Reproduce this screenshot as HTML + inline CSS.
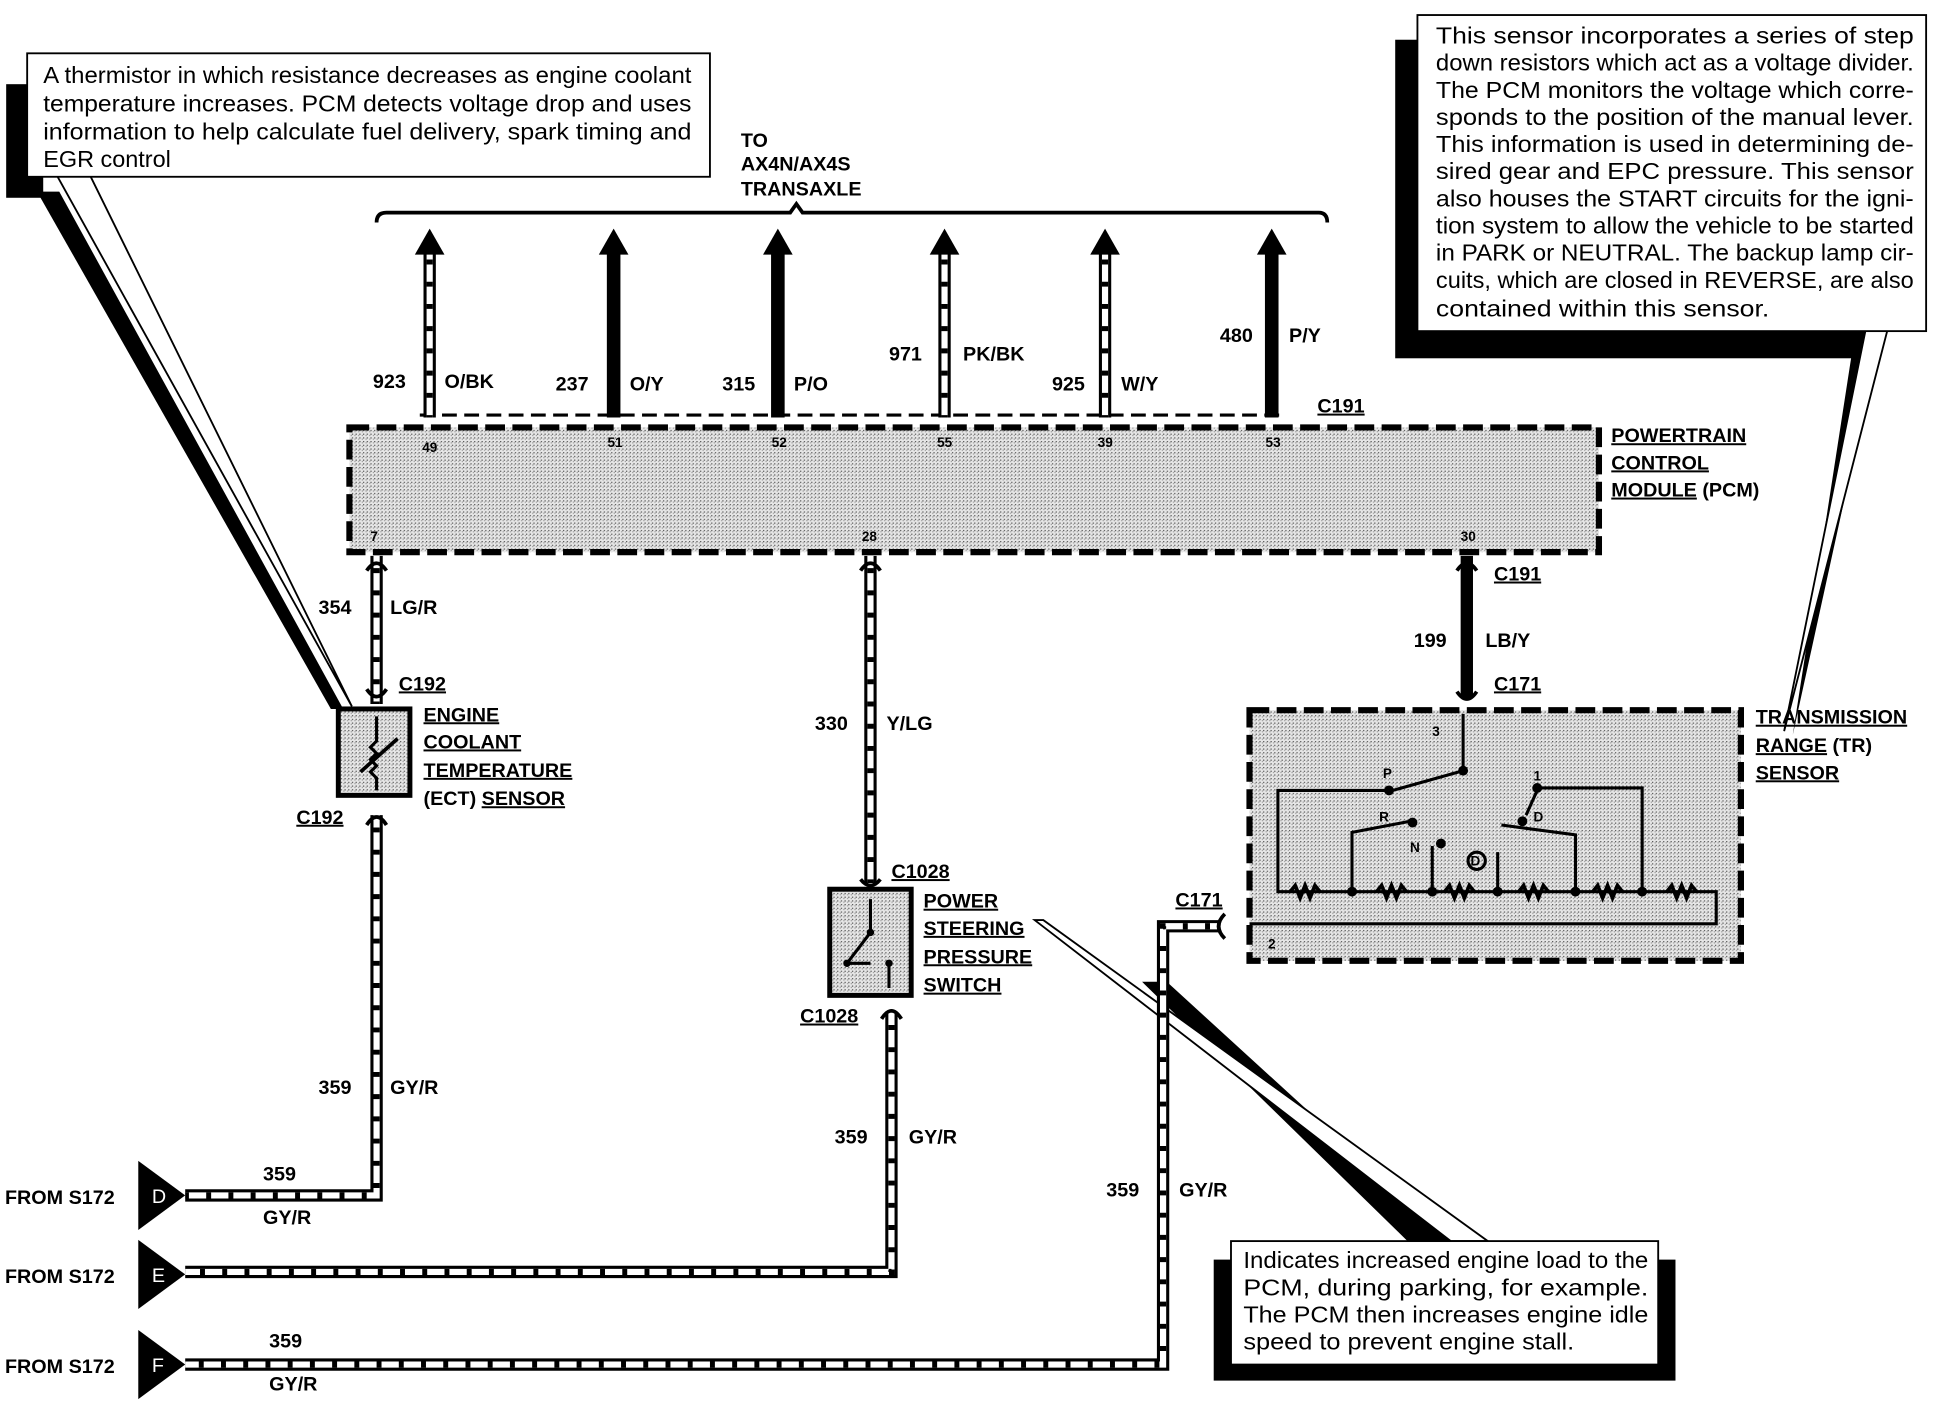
<!DOCTYPE html>
<html><head><meta charset="utf-8"><style>
html,body{margin:0;padding:0;background:#fff;}
svg{display:block;}
text{font-family:"Liberation Sans",Arial,sans-serif;fill:#000;}
.b{font-weight:bold;font-size:16px;}
.s{font-weight:bold;font-size:11px;}
.p{font-size:19px;}
.u{text-decoration:underline;}
</style></head><body>
<svg width="1936" height="1408" viewBox="0 0 1568 1140" xmlns="http://www.w3.org/2000/svg">
<defs>
<pattern id="dots" width="3" height="3" patternUnits="userSpaceOnUse">
<rect width="3" height="3" fill="#e6e6e6"/><rect width="1" height="1" fill="#555"/><rect x="2" y="1" width="1" height="1" fill="#999"/>
</pattern>
</defs>

<!-- Left callout shadow + box -->
<rect x="5" y="68" width="30" height="92" fill="#000"/>
<polygon points="30,155 48,155 278,574 268,574" fill="#000"/>
<polygon points="45,140 72,140 285,572" fill="#fff" stroke="#000" stroke-width="1.5"/>
<rect x="22" y="43" width="553" height="100" fill="#fff" stroke="#000" stroke-width="1.5"/>
<text class="p" x="35" y="67" textLength="525" lengthAdjust="spacingAndGlyphs">A thermistor in which resistance decreases as engine coolant</text>
<text class="p" x="35" y="90" textLength="525" lengthAdjust="spacingAndGlyphs">temperature increases. PCM detects voltage drop and uses</text>
<text class="p" x="35" y="113" textLength="525" lengthAdjust="spacingAndGlyphs">information to help calculate fuel delivery, spark timing and</text>
<text class="p" x="35" y="135">EGR control</text>

<!-- Right callout -->
<rect x="1130" y="32" width="385" height="258" fill="#000"/>
<polygon points="1500,285 1520,285 1452,595" fill="#000"/>
<polygon points="1512,262 1530,262 1445,592" fill="#fff" stroke="#000" stroke-width="1.5"/>
<rect x="1148" y="12" width="412" height="256" fill="#fff" stroke="#000" stroke-width="1.5"/>
<text class="p" x="1163" y="35" textLength="387" lengthAdjust="spacingAndGlyphs">This sensor incorporates a series of step</text>
<text class="p" x="1163" y="57" textLength="387" lengthAdjust="spacingAndGlyphs">down resistors which act as a voltage divider.</text>
<text class="p" x="1163" y="79" textLength="387" lengthAdjust="spacingAndGlyphs">The PCM monitors the voltage which corre-</text>
<text class="p" x="1163" y="101" textLength="387" lengthAdjust="spacingAndGlyphs">sponds to the position of the manual lever.</text>
<text class="p" x="1163" y="123" textLength="387" lengthAdjust="spacingAndGlyphs">This information is used in determining de-</text>
<text class="p" x="1163" y="145" textLength="387" lengthAdjust="spacingAndGlyphs">sired gear and EPC pressure.  This sensor</text>
<text class="p" x="1163" y="167" textLength="387" lengthAdjust="spacingAndGlyphs">also houses the START circuits for the igni-</text>
<text class="p" x="1163" y="189" textLength="387" lengthAdjust="spacingAndGlyphs">tion system to allow the vehicle to be started</text>
<text class="p" x="1163" y="211" textLength="387" lengthAdjust="spacingAndGlyphs">in PARK or NEUTRAL.  The backup lamp cir-</text>
<text class="p" x="1163" y="233" textLength="387" lengthAdjust="spacingAndGlyphs">cuits, which are closed in REVERSE, are also</text>
<text class="p" x="1163" y="256" textLength="270" lengthAdjust="spacingAndGlyphs">contained within this sensor.</text>

<!-- Bottom callout -->
<polygon points="925,795 945,795 1175,1005 1140,1005" fill="#000"/>
<polygon points="838,745 845,745 1205,1005 1175,1005" fill="#fff" stroke="#000" stroke-width="1.5"/>
<rect x="983" y="1020" width="374" height="98" fill="#000"/>
<rect x="997" y="1005" width="346" height="100" fill="#fff" stroke="#000" stroke-width="1.5"/>
<text class="p" x="1007" y="1027" textLength="328" lengthAdjust="spacingAndGlyphs">Indicates increased engine load to the</text>
<text class="p" x="1007" y="1049" textLength="328" lengthAdjust="spacingAndGlyphs">PCM, during parking, for example.</text>
<text class="p" x="1007" y="1071" textLength="328" lengthAdjust="spacingAndGlyphs">The PCM then increases engine idle</text>
<text class="p" x="1007" y="1093" textLength="268" lengthAdjust="spacingAndGlyphs">speed to prevent engine stall.</text>

<!-- Brace and transaxle label -->
<text class="b" x="600" y="119">TO</text>
<text class="b" x="600" y="138">AX4N/AX4S</text>
<text class="b" x="600" y="158">TRANSAXLE</text>
<path d="M305,180 Q305,172 313,172 L640,172 L645,165 L650,172 L1068,172 Q1075,172 1075,180" fill="none" stroke="#000" stroke-width="3"/>

<!-- C191 dashed line -->
<line x1="340" y1="336" x2="1040" y2="336" stroke="#000" stroke-width="2.5" stroke-dasharray="12,6"/>
<text class="b u" x="1067" y="334">C191</text>

<g stroke-linecap="butt">
<line x1="348" y1="200" x2="348" y2="338" stroke="#000" stroke-width="10"/>
<line x1="348" y1="200" x2="348" y2="338" stroke="#fff" stroke-width="5"/>
<line x1="348" y1="210" x2="348" y2="338" stroke="#000" stroke-width="5" stroke-dasharray="4,14"/>
<line x1="497" y1="200" x2="497" y2="338" stroke="#000" stroke-width="11"/>
<line x1="630" y1="200" x2="630" y2="338" stroke="#000" stroke-width="11"/>
<line x1="765" y1="200" x2="765" y2="338" stroke="#000" stroke-width="10"/>
<line x1="765" y1="200" x2="765" y2="338" stroke="#fff" stroke-width="5"/>
<line x1="765" y1="210" x2="765" y2="338" stroke="#000" stroke-width="5" stroke-dasharray="4,14"/>
<line x1="895" y1="200" x2="895" y2="338" stroke="#000" stroke-width="10"/>
<line x1="895" y1="200" x2="895" y2="338" stroke="#fff" stroke-width="5"/>
<line x1="895" y1="210" x2="895" y2="338" stroke="#000" stroke-width="5" stroke-dasharray="4,14"/>
<line x1="1030" y1="200" x2="1030" y2="338" stroke="#000" stroke-width="11"/>
</g>
<g fill="#000">
<polygon points="348,185 336,206 360,206"/>
<polygon points="497,185 485,206 509,206"/>
<polygon points="630,185 618,206 642,206"/>
<polygon points="765,185 753,206 777,206"/>
<polygon points="895,185 883,206 907,206"/>
<polygon points="1030,185 1018,206 1042,206"/>
</g>
<text class="b" x="302" y="314">923</text><text class="b" x="360" y="314">O/BK</text>
<text class="b" x="450" y="316">237</text><text class="b" x="510" y="316">O/Y</text>
<text class="b" x="585" y="316">315</text><text class="b" x="643" y="316">P/O</text>
<text class="b" x="720" y="292">971</text><text class="b" x="780" y="292">PK/BK</text>
<text class="b" x="852" y="316">925</text><text class="b" x="908" y="316">W/Y</text>
<text class="b" x="988" y="277">480</text><text class="b" x="1044" y="277">P/Y</text>

<!-- PCM box -->
<rect x="283" y="346" width="1012" height="101" fill="url(#dots)" stroke="#000" stroke-width="5" stroke-dasharray="16,6"/>
<text class="s" x="342" y="366">49</text><text class="s" x="492" y="362">51</text><text class="s" x="625" y="362">52</text>
<text class="s" x="759" y="362">55</text><text class="s" x="889" y="362">39</text><text class="s" x="1025" y="362">53</text>
<text class="s" x="300" y="438">7</text><text class="s" x="698" y="438">28</text><text class="s" x="1183" y="438">30</text>
<text class="b u" x="1305" y="358">POWERTRAIN</text>
<text class="b u" x="1305" y="380">CONTROL</text>
<text class="b" x="1305" y="402"><tspan class="u">MODULE</tspan> (PCM)</text>

<g fill="none" stroke-linejoin="miter">
<path d="M305,450 V570" stroke="#000" stroke-width="10"/>
<path d="M305,450 V570" stroke="#fff" stroke-width="5"/>
<path d="M305,460 V570" stroke="#000" stroke-width="5" stroke-dasharray="4,14"/>
<path d="M305,660 V968 H150" stroke="#000" stroke-width="10"/>
<path d="M305,660 V968 H150" stroke="#fff" stroke-width="5"/>
<path d="M305,670 V968 H150" stroke="#000" stroke-width="5" stroke-dasharray="4,14"/>
<path d="M705,450 V715" stroke="#000" stroke-width="10"/>
<path d="M705,450 V715" stroke="#fff" stroke-width="5"/>
<path d="M705,460 V715" stroke="#000" stroke-width="5" stroke-dasharray="4,14"/>
<path d="M722,820 V1030 H150" stroke="#000" stroke-width="10"/>
<path d="M722,820 V1030 H150" stroke="#fff" stroke-width="5"/>
<path d="M722,830 V1030 H150" stroke="#000" stroke-width="5" stroke-dasharray="4,14"/>
<path d="M988,750 H942 V1105 H150" stroke="#000" stroke-width="10"/>
<path d="M988,750 H942 V1105 H150" stroke="#fff" stroke-width="5"/>
<path d="M980,750 H942 V1105 H150" stroke="#000" stroke-width="5" stroke-dasharray="4,14"/>
<path d="M1188,450 V565" stroke="#000" stroke-width="10"/>
</g>
<g fill="none" stroke="#000" stroke-width="3">
<path d="M297,462 Q305,450 313,462"/><path d="M297,558 Q305,570 313,558"/>
<path d="M297,668 Q305,655 313,668"/>
<path d="M697,462 Q705,450 713,462"/><path d="M697,712 Q705,722 713,712"/>
<path d="M714,825 Q722,812 730,825"/>
<path d="M1180,462 Q1188,450 1196,462"/><path d="M1180,560 Q1188,572 1196,560"/>
<path d="M992,740 Q982,750 992,760"/>
</g>

<text class="b" x="258" y="497">354</text><text class="b" x="316" y="497">LG/R</text>
<text class="b u" x="323" y="559">C192</text>
<text class="b u" x="240" y="667">C192</text>
<text class="b" x="258" y="886">359</text><text class="b" x="316" y="886">GY/R</text>
<text class="b" x="213" y="956">359</text><text class="b" x="213" y="991">GY/R</text>

<rect x="274" y="574" width="58" height="70" fill="url(#dots)" stroke="#000" stroke-width="4"/>
<path d="M305,580 V600 l-5,5 5,5 -5,5 5,5 -5,5 5,5 V640" fill="none" stroke="#000" stroke-width="2.5"/>
<line x1="292" y1="625" x2="322" y2="598" stroke="#000" stroke-width="3"/>
<text class="b u" x="343" y="584">ENGINE</text>
<text class="b u" x="343" y="606">COOLANT</text>
<text class="b u" x="343" y="629">TEMPERATURE</text>
<text class="b" x="343" y="652">(ECT) <tspan class="u">SENSOR</tspan></text>

<text class="b" x="660" y="591">330</text><text class="b" x="718" y="591">Y/LG</text>
<text class="b u" x="722" y="711">C1028</text>
<text class="b u" x="648" y="828">C1028</text>
<text class="b" x="676" y="926">359</text><text class="b" x="736" y="926">GY/R</text>

<rect x="672" y="720" width="66" height="86" fill="url(#dots)" stroke="#000" stroke-width="4"/>
<path d="M705,728 V755 L686,780 M686,780 H705 M720,780 V800" fill="none" stroke="#000" stroke-width="2.5"/>
<circle cx="705" cy="755" r="3"/><circle cx="686" cy="780" r="3"/><circle cx="720" cy="780" r="3"/>
<text class="b u" x="748" y="735">POWER</text>
<text class="b u" x="748" y="757">STEERING</text>
<text class="b u" x="748" y="780">PRESSURE</text>
<text class="b u" x="748" y="803">SWITCH</text>

<text class="b u" x="1210" y="470">C191</text>
<text class="b" x="1145" y="524">199</text><text class="b" x="1203" y="524">LB/Y</text>
<text class="b u" x="1210" y="559">C171</text>
<text class="b u" x="952" y="734">C171</text>
<text class="b" x="896" y="969">359</text><text class="b" x="955" y="969">GY/R</text>

<rect x="1012" y="575" width="398" height="203" fill="url(#dots)" stroke="#000" stroke-width="5" stroke-dasharray="16,6"/>
<g fill="none" stroke="#000" stroke-width="2.5">
<path d="M1185,578 V624 L1128,640"/>
<path d="M1125,640 H1035 V722 H1390 V748 H1012"/>
<path d="M1245,638 H1330 V722"/>
<path d="M1245,640 L1236,660"/>
<path d="M1142,665 L1095,674 V722"/>
<path d="M1216,668 L1276,676 V722"/>
<path d="M1160,685 V722 M1213,690 V722"/>
<path d="M1045,722 l4,-5 4,10 4,-10 4,10 4,-10 4,5" stroke-width="3"/>
<path d="M1115,722 l4,-5 4,10 4,-10 4,10 4,-10 4,5" stroke-width="3"/>
<path d="M1170,722 l4,-5 4,10 4,-10 4,10 4,-10 4,5" stroke-width="3"/>
<path d="M1230,722 l4,-5 4,10 4,-10 4,10 4,-10 4,5" stroke-width="3"/>
<path d="M1290,722 l4,-5 4,10 4,-10 4,10 4,-10 4,5" stroke-width="3"/>
<path d="M1350,722 l4,-5 4,10 4,-10 4,10 4,-10 4,5" stroke-width="3"/>
<circle cx="1196" cy="697" r="7"/>
</g>
<g fill="#000">
<circle cx="1185" cy="624" r="4"/><circle cx="1125" cy="640" r="4"/><circle cx="1245" cy="638" r="4"/>
<circle cx="1144" cy="666" r="4"/><circle cx="1233" cy="665" r="4"/><circle cx="1167" cy="683" r="4"/>
<circle cx="1095" cy="722" r="4"/><circle cx="1160" cy="722" r="4"/><circle cx="1213" cy="722" r="4"/>
<circle cx="1276" cy="722" r="4"/><circle cx="1330" cy="722" r="4"/>
</g>
<text class="s" x="1160" y="596">3</text><text class="s" x="1120" y="630">P</text><text class="s" x="1242" y="632">1</text>
<text class="s" x="1117" y="665">R</text><text class="s" x="1242" y="665">D</text><text class="s" x="1142" y="690">N</text>
<text class="s" x="1191" y="701">D</text><text class="s" x="1027" y="768">2</text>
<text class="b u" x="1422" y="586">TRANSMISSION</text>
<text class="b" x="1422" y="609"><tspan class="u">RANGE</tspan> (TR)</text>
<text class="b u" x="1422" y="631">SENSOR</text>

<g fill="#000">
<polygon points="112,940 150,968 112,996"/>
<polygon points="112,1004 150,1032 112,1060"/>
<polygon points="112,1077 150,1105 112,1133"/>
</g>
<text x="123" y="974" style="font-size:16px;fill:#fff">D</text>
<text x="123" y="1038" style="font-size:16px;fill:#fff">E</text>
<text x="123" y="1111" style="font-size:16px;fill:#fff">F</text>
<text class="b" x="4" y="975">FROM S172</text>
<text class="b" x="4" y="1039">FROM S172</text>
<text class="b" x="4" y="1112">FROM S172</text>
<text class="b" x="218" y="1091">359</text><text class="b" x="218" y="1126">GY/R</text>
</svg>
</body></html>
